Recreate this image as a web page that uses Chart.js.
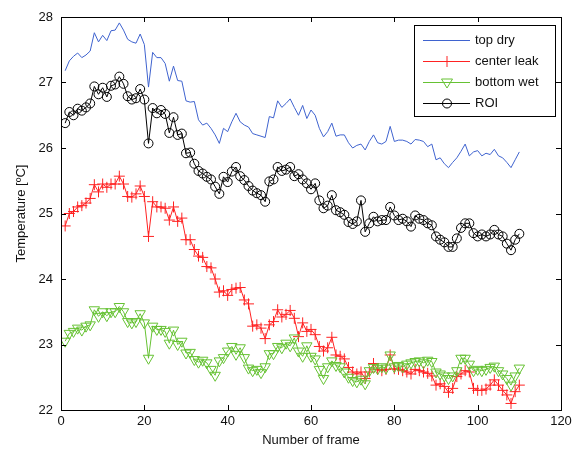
<!DOCTYPE html>
<html>
<head>
<meta charset="utf-8">
<script src="https://cdn.jsdelivr.net/npm/chart.js@4.4.0/dist/chart.umd.min.js"></script>
<style>
html, body { margin: 0; padding: 0; background: #fff; }
#wadah { width: 583px; height: 452px; }
</style>
</head>
<body>
<div id="wadah"><canvas id="grafik"></canvas></div>
<script>
// --- DATA ---
// nomor frame 1..110
var nomorFrame = [];
for (var i = 1; i <= 110; i++) { nomorFrame.push(i); }

var topDry = [
  27.18, 27.33, 27.40, 27.45, 27.38, 27.42, 27.48, 27.76, 27.62, 27.72,
  27.64, 27.79, 27.80, 27.91, 27.80, 27.66, 27.62, 27.60, 27.74, 27.58,
  26.93, 27.46, 27.38, 27.38, 27.29, 27.02, 27.25, 27.03, 27.02, 26.72,
  26.70, 26.71, 26.43, 26.35, 26.38, 26.30, 26.20, 26.07, 26.30, 26.25,
  26.40, 26.53, 26.40, 26.35, 26.32, 26.22, 26.20, 26.18, 26.16, 26.48,
  26.46, 26.72, 26.62, 26.68, 26.75, 26.62, 26.50, 26.65, 26.45, 26.58,
  26.50, 26.30, 26.17, 26.25, 26.38, 26.18, 26.20, 26.20, 26.08, 26.00,
  26.04, 26.06, 25.97, 26.10, 26.20, 26.08, 26.06, 26.10, 26.33, 26.10,
  26.12, 26.12, 26.10, 26.06, 26.13, 26.12, 26.10, 26.02, 26.06, 25.82,
  25.85, 25.76, 25.70, 25.78, 25.85, 25.95, 26.06, 25.88, 25.94, 25.96,
  25.88, 25.92, 25.90, 25.98, 25.88, 25.85, 25.78, 25.70, 25.82, 25.94
];

var centerLeak = [
  24.81, 25.00, 25.03, 25.10, 25.12, 25.16, 25.23, 25.44, 25.33, 25.45,
  25.40, 25.45, 25.45, 25.57, 25.45, 25.26, 25.25, 25.30, 25.42, 25.26,
  24.65, 25.18, 25.10, 25.10, 25.08, 24.90, 25.10, 24.88, 24.93, 24.60,
  24.60, 24.45, 24.35, 24.33, 24.19, 24.17, 24.00, 23.80, 23.82, 23.75,
  23.84, 23.86, 23.87, 23.68, 23.62, 23.28, 23.30, 23.25, 23.09, 23.30,
  23.35, 23.53, 23.42, 23.46, 23.52, 23.40, 23.12, 23.33, 23.20, 23.23,
  23.15, 22.97, 22.90, 22.95, 23.11, 22.84, 22.82, 22.78, 22.65, 22.58,
  22.55, 22.58, 22.48, 22.58, 22.71, 22.62, 22.60, 22.62, 22.84, 22.63,
  22.62, 22.60, 22.58, 22.55, 22.62, 22.60, 22.58, 22.56, 22.52, 22.38,
  22.40, 22.36, 22.27, 22.33, 22.51, 22.55, 22.60, 22.58, 22.33, 22.30,
  22.30, 22.32, 22.38, 22.46, 22.38, 22.30, 22.23, 22.10, 22.28, 22.38
];

var bottomWet = [
  23.05, 23.17, 23.20, 23.25, 23.22, 23.28, 23.30, 23.53, 23.43, 23.50,
  23.44, 23.50, 23.50, 23.58, 23.50, 23.35, 23.33, 23.35, 23.47, 23.33,
  22.79, 23.28, 23.23, 23.23, 23.20, 23.02, 23.22, 23.00, 23.05, 22.87,
  22.88, 22.77, 22.73, 22.76, 22.72, 22.62, 22.53, 22.75, 22.80, 22.90,
  22.97, 22.85, 22.95, 22.80, 22.64, 22.60, 22.62, 22.57, 22.66, 22.86,
  22.86, 22.97, 22.95, 23.02, 22.98, 23.10, 22.90, 22.82, 22.98, 22.82,
  22.78, 22.62, 22.48, 22.66, 22.75, 22.68, 22.66, 22.58, 22.50, 22.45,
  22.43, 22.47, 22.40, 22.60, 22.65, 22.63, 22.66, 22.64, 22.84, 22.66,
  22.68, 22.66, 22.70, 22.72, 22.74, 22.75, 22.72, 22.76, 22.74, 22.58,
  22.55, 22.52, 22.48, 22.52, 22.60, 22.79, 22.79, 22.70, 22.60, 22.62,
  22.60, 22.62, 22.65, 22.67, 22.60, 22.55, 22.48, 22.38, 22.52, 22.64
];

var roi = [
  26.38, 26.55, 26.50, 26.60, 26.57, 26.62, 26.68, 26.94, 26.82, 26.92,
  26.78, 26.95, 26.97, 27.09, 26.98, 26.79, 26.74, 26.76, 26.90, 26.74,
  26.07, 26.61, 26.53, 26.58, 26.52, 26.23, 26.47, 26.20, 26.22, 25.92,
  25.93, 25.76, 25.65, 25.61, 25.56, 25.52, 25.41, 25.30, 25.56, 25.48,
  25.64, 25.71, 25.57, 25.51, 25.42, 25.35, 25.31, 25.28, 25.18, 25.49,
  25.52, 25.71, 25.65, 25.67, 25.71, 25.57, 25.60, 25.52, 25.46, 25.37,
  25.46, 25.20, 25.08, 25.12, 25.28, 25.05, 25.02, 24.98, 24.87, 24.84,
  24.88, 25.20, 24.72, 24.85, 24.95, 24.88, 24.90, 24.90, 25.10, 24.97,
  24.90, 24.92, 24.88, 24.80, 24.97, 24.92, 24.90, 24.85, 24.82, 24.65,
  24.60, 24.56, 24.49, 24.49, 24.62, 24.78, 24.85, 24.85, 24.70, 24.65,
  24.68, 24.65, 24.68, 24.75, 24.68, 24.65, 24.54, 24.44, 24.60, 24.69
];

var labelSeri = ['top dry', 'center leak', 'bottom wet', 'ROI'];
var tickX = [0, 20, 40, 60, 80, 100, 120];
var tickY = [22, 23, 24, 25, 26, 27, 28];

// --- WARNA & GAYA ---
var warnaBiru = '#3f63cf';
var warnaMerah = '#ff2222';
var warnaHijau = '#66c233';
var hurufUtama = "13px 'Liberation Sans', Arial, sans-serif";

function jadiTitik(nilai) {
  return nilai.map(function(v, idx) { return { x: nomorFrame[idx], y: v }; });
}

// --- GAMBAR MARKER UNTUK LEGENDA ---
function gambarMarker(ctx, jenis, x, y, warna) {
  ctx.save();
  ctx.strokeStyle = warna;
  ctx.lineWidth = 1;
  ctx.beginPath();
  if (jenis === 'cross') {
    ctx.moveTo(x - 5.5, y); ctx.lineTo(x + 5.5, y);
    ctx.moveTo(x, y - 5.5); ctx.lineTo(x, y + 5.5);
  } else if (jenis === 'segitiga') {
    ctx.moveTo(x - 5.5, y - 3.5); ctx.lineTo(x + 5.5, y - 3.5); ctx.lineTo(x, y + 5.5); ctx.closePath();
  } else if (jenis === 'lingkaran') {
    ctx.arc(x, y, 4.5, 0, Math.PI * 2);
  }
  ctx.stroke();
  ctx.restore();
}

// --- PLUGIN: BINGKAI, TICK DALAM, LEGENDA ---
var pluginBingkai = {
  id: 'bingkai',
  afterDatasetsDraw: function(chart) {
    var ctx = chart.ctx;
    var a = chart.chartArea;
    var sx = chart.scales.x;
    var sy = chart.scales.y;
    ctx.save();
    ctx.strokeStyle = '#000';
    ctx.lineWidth = 1;
    ctx.strokeRect(Math.round(a.left) + 0.5, Math.round(a.top) + 0.5,
                   Math.round(a.right - a.left), Math.round(a.bottom - a.top));

    // tick ke dalam di keempat sisi
    ctx.beginPath();
    tickX.forEach(function(t) {
      var px = Math.round(sx.getPixelForValue(t)) + 0.5;
      ctx.moveTo(px, a.bottom); ctx.lineTo(px, a.bottom - 5);
      ctx.moveTo(px, a.top); ctx.lineTo(px, a.top + 5);
    });
    tickY.forEach(function(t) {
      var py = Math.round(sy.getPixelForValue(t)) + 0.5;
      ctx.moveTo(a.left, py); ctx.lineTo(a.left + 5, py);
      ctx.moveTo(a.right, py); ctx.lineTo(a.right - 5, py);
    });
    ctx.stroke();

    // legenda
    var kx = 414, ky = 25, kw = 141, kh = 91;
    ctx.fillStyle = '#fff';
    ctx.fillRect(kx, ky, kw, kh);
    ctx.strokeStyle = '#000';
    ctx.strokeRect(kx + 0.5, ky + 0.5, kw, kh);

    var warnaSeri = [warnaBiru, warnaMerah, warnaHijau, '#000'];
    var markerSeri = [null, 'cross', 'segitiga', 'lingkaran'];
    ctx.font = hurufUtama;
    ctx.textBaseline = 'middle';
    for (var j = 0; j < labelSeri.length; j++) {
      var yy = 40 + j * 21 + 0.5;
      ctx.strokeStyle = warnaSeri[j];
      ctx.beginPath();
      ctx.moveTo(423, yy); ctx.lineTo(470, yy);
      ctx.stroke();
      if (markerSeri[j]) { gambarMarker(ctx, markerSeri[j], 447, yy, warnaSeri[j]); }
      ctx.fillStyle = '#111';
      ctx.fillText(labelSeri[j], 475, yy);
    }
    ctx.restore();
  }
};

var ctx = document.getElementById('grafik').getContext('2d');
var grafik = new Chart(ctx, {
  type: 'line',
  data: {
    datasets: [
      {
        label: labelSeri[0], data: jadiTitik(topDry), order: 4,
        borderColor: warnaBiru, borderWidth: 1, pointRadius: 0, tension: 0
      },
      {
        label: labelSeri[1], data: jadiTitik(centerLeak), order: 3,
        borderColor: warnaMerah, borderWidth: 1, tension: 0,
        pointStyle: 'cross', pointRadius: 5.5, pointBorderColor: warnaMerah, pointBorderWidth: 1
      },
      {
        label: labelSeri[2], data: jadiTitik(bottomWet), order: 2,
        borderColor: warnaHijau, borderWidth: 1, tension: 0,
        pointStyle: 'triangle', pointRotation: 180, pointRadius: 6,
        pointBorderColor: warnaHijau, pointBackgroundColor: 'rgba(0,0,0,0)', pointBorderWidth: 1
      },
      {
        label: labelSeri[3], data: jadiTitik(roi), order: 1,
        borderColor: '#000', borderWidth: 1, tension: 0,
        pointStyle: 'circle', pointRadius: 4.5,
        pointBorderColor: '#000', pointBackgroundColor: 'rgba(0,0,0,0)', pointBorderWidth: 1
      }
    ]
  },
  options: {
    responsive: true,
    maintainAspectRatio: false,
    animation: false,
    layout: { padding: { left: 0, right: 22, top: 17, bottom: 0 } },
    scales: {
      x: {
        type: 'linear', min: 0, max: 120,
        grid: { display: false, drawTicks: false },
        border: { display: false },
        afterFit: function(s) { s.height = 42; },
        afterBuildTicks: function(s) { s.ticks = tickX.map(function(v) { return { value: v }; }); },
        ticks: { color: '#111', padding: 4, maxRotation: 0, font: { family: "'Liberation Sans', Arial, sans-serif", size: 13 } },
        title: { display: true, text: 'Number of frame', color: '#111', padding: { top: 0, bottom: 4 },
                 font: { family: "'Liberation Sans', Arial, sans-serif", size: 13 } }
      },
      y: {
        type: 'linear', min: 22, max: 28,
        grid: { display: false, drawTicks: false },
        border: { display: false },
        afterFit: function(s) { s.width = 61; },
        afterBuildTicks: function(s) { s.ticks = tickY.map(function(v) { return { value: v }; }); },
        ticks: { color: '#111', padding: 8, font: { family: "'Liberation Sans', Arial, sans-serif", size: 13 } },
        title: { display: true, text: 'Temperature [ºC]', color: '#111', padding: { top: 14, bottom: 0 },
                 font: { family: "'Liberation Sans', Arial, sans-serif", size: 13 } }
      }
    },
    plugins: {
      legend: { display: false },
      tooltip: { enabled: false }
    }
  },
  plugins: [pluginBingkai]
});
</script>
</body>
</html>
